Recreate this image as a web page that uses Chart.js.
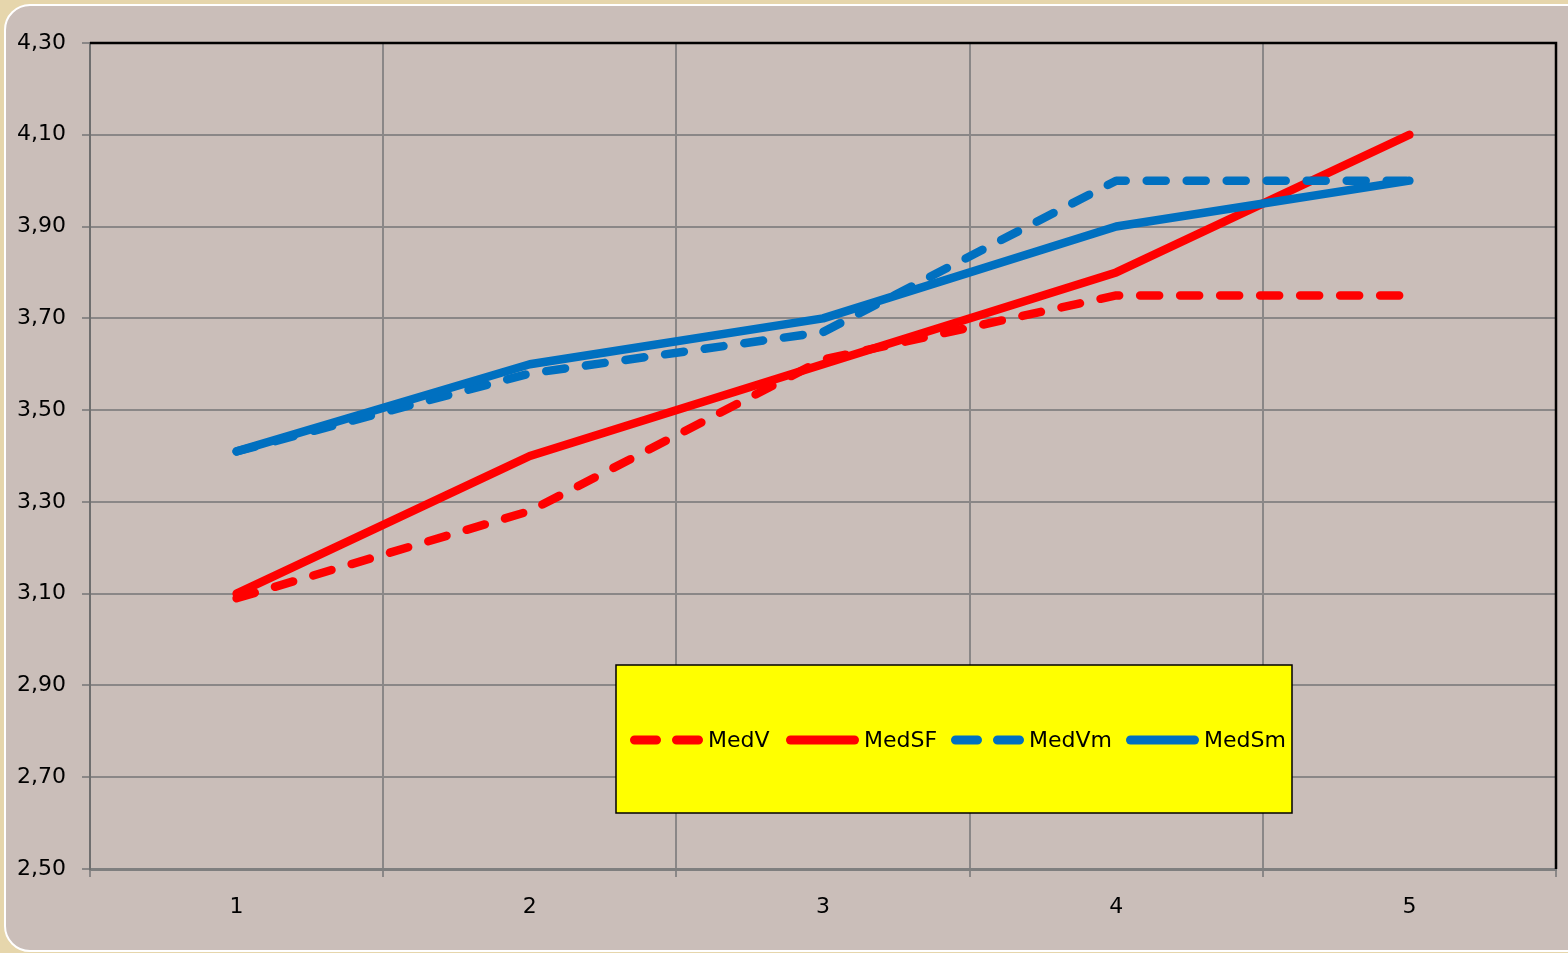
<!DOCTYPE html>
<html>
<head>
<meta charset="utf-8">
<script src="https://cdn.jsdelivr.net/npm/chart.js@4"></script>
<style>
  html, body { margin: 0; padding: 0; width: 1568px; height: 953px; overflow: hidden; background: #E6D6AC; }
  #panel {
    position: absolute; left: 4px; top: 4px; width: 1570px; height: 944px;
    background: #CABEB9; border: 2px solid #FFFFFF;
    border-top-left-radius: 26px; border-bottom-left-radius: 26px;
  }
  #wrap { position: absolute; left: 0; top: 0; width: 1568px; height: 953px; }
</style>
</head>
<body>
<div id="panel"></div>
<div id="wrap"><canvas id="chart" width="1568" height="953"></canvas></div>
<script>
// Categories and series
const categories = ['1', '2', '3', '4', '5'];
const medV  = [3.09, 3.28, 3.61, 3.75, 3.75];
const medSF = [3.10, 3.40, 3.60, 3.80, 4.10];
const medVm = [3.41, 3.58, 3.67, 4.00, 4.00];
const medSm = [3.41, 3.60, 3.70, 3.90, 4.00];
const seriesNames = ['MedV', 'MedSF', 'MedVm', 'MedSm'];

const RED = '#FF0000';
const BLUE = '#0070C0';
const FONT = '"DejaVu Sans", sans-serif';

function line(label, data, color, dashed, order) {
  return {
    label, data,
    borderColor: color, backgroundColor: color,
    borderWidth: 8.5, borderDash: dashed ? [19, 21] : [],
    borderCapStyle: 'round', borderJoinStyle: 'round',
    pointRadius: 0, tension: 0, fill: false, order
  };
}

// Frame: black top and right edges of the plot area
const framePlugin = {
  id: 'frame',
  afterDraw(chart) {
    const { ctx, chartArea: a } = chart;
    ctx.save();
    ctx.strokeStyle = '#000';
    ctx.lineWidth = 2.5;
    ctx.beginPath();
    ctx.moveTo(a.left, a.top);
    ctx.lineTo(a.right, a.top);
    ctx.lineTo(a.right, a.bottom);
    ctx.stroke();
    ctx.restore();
  }
};

// Yellow legend box inside the plot area
const legendSlots = [632, 788, 953, 1128];
const boxLegend = {
  id: 'boxLegend',
  afterDraw(chart) {
    const { ctx } = chart;
    const x0 = 616, y0 = 665, w = 676, h = 148;
    ctx.save();
    ctx.fillStyle = '#FFFF00';
    ctx.fillRect(x0, y0, w, h);
    ctx.strokeStyle = '#000';
    ctx.lineWidth = 1.5;
    ctx.strokeRect(x0, y0, w, h);
    const cy = y0 + h / 2 + 1;
    ctx.font = '22px ' + FONT;
    ctx.textBaseline = 'middle';
    ctx.fillStyle = '#000';
    chart.data.datasets.forEach((ds, i) => {
      const x = legendSlots[i];
      ctx.strokeStyle = ds.borderColor;
      ctx.lineWidth = 9;
      ctx.lineCap = 'round';
      ctx.setLineDash(ds.borderDash.length ? [22, 20] : []);
      ctx.beginPath();
      ctx.moveTo(x + 2.5, cy);
      ctx.lineTo(x + 66.5, cy);
      ctx.stroke();
      ctx.setLineDash([]);
      ctx.fillText(ds.label, x + 76, cy + 1);
    });
    ctx.restore();
  }
};

new Chart(document.getElementById('chart'), {
  type: 'line',
  data: {
    labels: categories,
    datasets: [
      line(seriesNames[0], medV, RED, true, 4),
      line(seriesNames[1], medSF, RED, false, 3),
      line(seriesNames[2], medVm, BLUE, true, 2),
      line(seriesNames[3], medSm, BLUE, false, 1)
    ]
  },
  options: {
    responsive: false,
    animation: false,
    layout: { padding: { top: 43, right: 12, left: 0, bottom: 0 } },
    plugins: { legend: { display: false }, tooltip: { enabled: false } },
    scales: {
      x: {
        offset: true,
        grid: { offset: true, color: '#8A8787', lineWidth: 2, tickLength: 8, tickColor: '#8A8787' },
        border: { color: '#7F7F7F', width: 3 },
        ticks: { color: '#000', font: { family: FONT, size: 22 }, padding: 17 },
        afterFit(s) { s.height = 84; }
      },
      y: {
        min: 2.5, max: 4.3,
        grid: { color: '#8A8787', lineWidth: 2, tickLength: 8, tickColor: '#8A8787' },
        border: { color: '#6F6F6F', width: 2 },
        ticks: {
          stepSize: 0.2, color: '#000', padding: 16,
          font: { family: FONT, size: 22 },
          callback: (v) => v.toFixed(2).replace('.', ',')
        },
        afterFit(s) { s.width = 90; }
      }
    }
  },
  plugins: [framePlugin, boxLegend]
});
</script>
</body>
</html>
